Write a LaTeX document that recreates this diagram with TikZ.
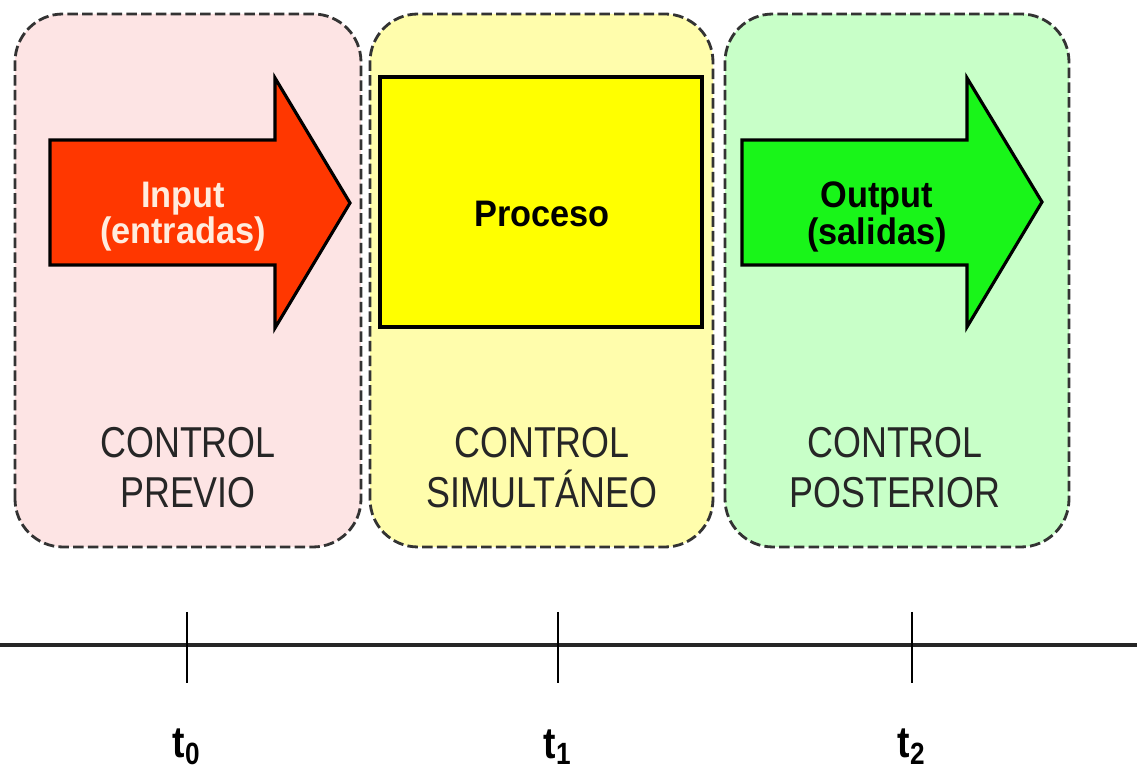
\documentclass[tikz,border=0pt]{standalone}
\usepackage{fontspec}
\setmainfont{Liberation Sans}
\definecolor{pinkbg}{RGB}{253,228,228}
\definecolor{yellowbg}{RGB}{255,253,172}
\definecolor{greenbg}{RGB}{200,255,200}
\definecolor{inputred}{RGB}{255,55,0}
\definecolor{inputtext}{RGB}{255,236,222}
\definecolor{procyellow}{RGB}{255,255,0}
\definecolor{outputgreen}{RGB}{25,245,25}
\begin{document}
\begin{tikzpicture}[scale=1,
        panel/.style = {draw = black!80, line width = 0.8pt, dash pattern = on 3pt off 1.2pt, rounded corners = 0.48cm},
        blockarrow/.style = {draw = black, line width = 0.9pt, line join = miter},
        boldlabel/.style = {font = \fontsize{10.5}{10.3}\selectfont\bfseries, align = center, inner sep = 0pt, xscale = 0.93},
        controllabel/.style = {font = \fontsize{12.3}{14.2}\selectfont, align = center, xscale = 0.83, text = black!85},
        ticklabel/.style = {font = \fontsize{12.5}{12.5}\selectfont\bfseries, xscale = 0.85}]
        \useasboundingbox (0,0) rectangle (11.37,7.74);
        % the three control stages
        \draw[panel, fill = pinkbg] (0.15,2.27) rectangle (3.61,7.60);
        \draw[panel, fill = yellowbg] (3.70,2.27) rectangle (7.13,7.60);
        \draw[panel, fill = greenbg] (7.25,2.27) rectangle (10.69,7.60);
        % input arrow
        \draw[blockarrow, fill = inputred] (0.50,5.09) -- (0.50,6.34) -- (2.75,6.34) -- (2.75,6.96)
                -- (3.50,5.71) -- (2.75,4.46) -- (2.75,5.09) -- cycle;
        \node[boldlabel, text = inputtext] (input) at (1.83,5.57) {Input\\(entradas)};
        % process box
        \draw[blockarrow, fill = procyellow] (3.80,4.47) rectangle (7.02,6.97);
        \node[boldlabel] (proceso) at (5.42,5.60) {Proceso};
        % output arrow
        \draw[blockarrow, fill = outputgreen] (7.42,5.09) -- (7.42,6.34) -- (9.67,6.34) -- (9.67,6.96)
                -- (10.42,5.72) -- (9.67,4.47) -- (9.67,5.09) -- cycle;
        \node[boldlabel] (output) at (8.77,5.57) {Output\\(salidas)};
        \node[controllabel] (previo) at (1.88,3.06) {CONTROL\\PREVIO};
        \node[controllabel] (simultaneo) at (5.42,3.06) {CONTROL\\SIMULTÁNEO};
        \node[controllabel] (posterior) at (8.95,3.06) {CONTROL\\POSTERIOR};
        % time axis
        \draw[color = black!85, line width = 0.9pt] (0,1.29) -- (11.37,1.29);
        \draw[color = black, line width = 0.5pt] (1.87,1.62) -- (1.87,0.91);
        \draw[color = black, line width = 0.5pt] (5.58,1.62) -- (5.58,0.91);
        \draw[color = black, line width = 0.5pt] (9.12,1.62) -- (9.12,0.91);
        \node[ticklabel] (t0) at (1.87,0.27) {t\textsubscript{0}};
        \node[ticklabel] (t1) at (5.58,0.27) {t\textsubscript{1}};
        \node[ticklabel] (t2) at (9.12,0.27) {t\textsubscript{2}};
\end{tikzpicture}
\end{document}
